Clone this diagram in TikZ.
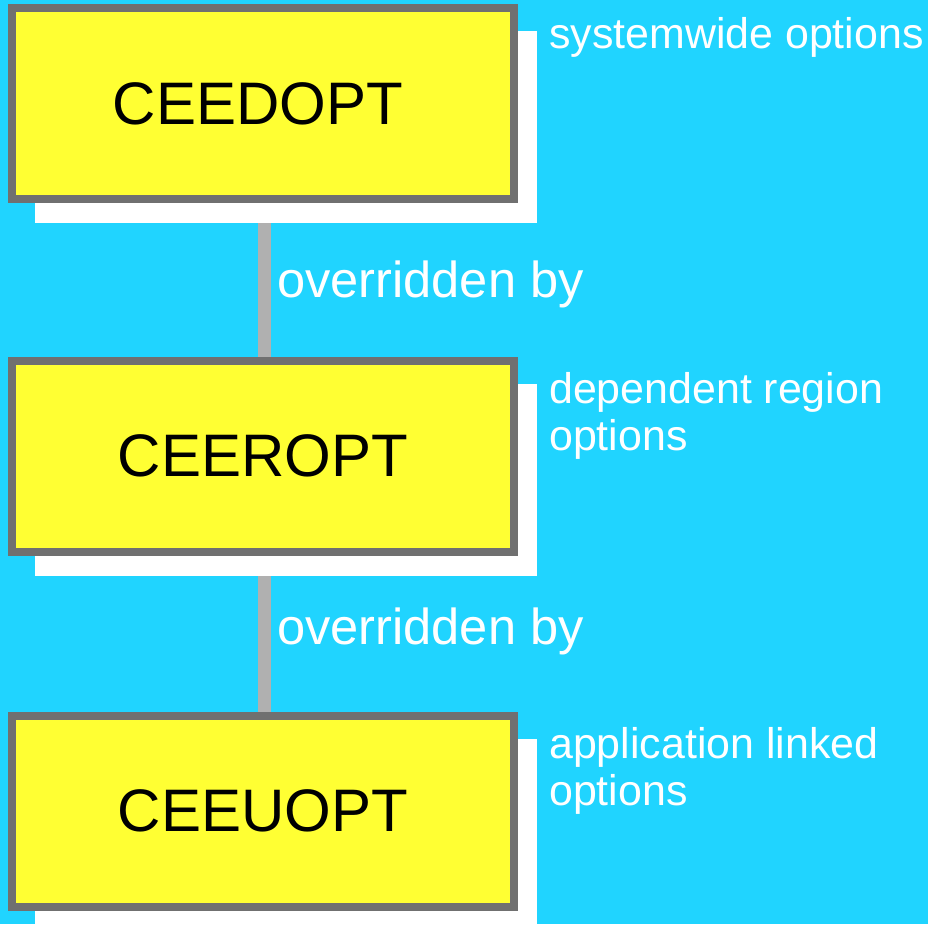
\documentclass[tikz,border=0pt]{standalone}
\usepackage{fontspec}
\setmainfont{Liberation Sans}
\usetikzlibrary{calc}
\definecolor{bgcyan}{HTML}{20D4FF}
\definecolor{boxyellow}{HTML}{FFFF33}
\definecolor{boxgray}{HTML}{707070}
\definecolor{linkgray}{HTML}{B0B0B0}
\pgfdeclarelayer{bg}
\pgfdeclarelayer{mid}
\pgfsetlayers{bg,mid,main}
\tikzset{
  optbox/.style={draw=boxgray, line width=8pt, fill=boxyellow, rectangle,
    minimum width=502pt, minimum height=191pt, inner sep=0pt,
    font=\fontsize{60}{66}\selectfont, text=black},
  shadowfill/.style={fill=white},
  linkline/.style={draw=linkgray, line width=13pt},
  linklabel/.style={anchor=base west, inner sep=0pt, text=white,
    font=\fontsize{50.6}{56}\selectfont},
  sidelabel/.style={anchor=north west, inner sep=0pt, text=white, align=left,
    font=\fontsize{42.9}{47}\selectfont}
}
\begin{document}
\begin{tikzpicture}[x=1pt,y=-1pt]
\useasboundingbox (0,0) rectangle (928,924);
\begin{pgfonlayer}{bg}
  \fill[bgcyan] (0,0) rectangle (928,924);
\end{pgfonlayer}

\node[optbox] (b1) at (263,103.5) {CEEDOPT\hspace*{10pt}};
\node[optbox] (b2) at (263,456) {CEEROPT};
\node[optbox] (b3) at (263,811) {CEEUOPT};

\begin{pgfonlayer}{mid}
  \fill[shadowfill] ($(b1.north west)+(27,27)$) rectangle ($(b1.south east)+(19,20)$);
  \fill[shadowfill] ($(b2.north west)+(27,27)$) rectangle ($(b2.south east)+(19,20)$);
  \fill[shadowfill] ($(b3.north west)+(27,27)$) rectangle ($(b3.south east)+(19,20)$);
\end{pgfonlayer}

\begin{pgfonlayer}{bg}
  \draw[linkline] ([xshift=1.5pt]b1.south) -- ([xshift=1.5pt]b2.north);
  \draw[linkline] ([xshift=1.5pt]b2.south) -- ([xshift=1.5pt]b3.north);
\end{pgfonlayer}

\node[linklabel] (o1) at (277,297) {overridden by};
\node[linklabel] (o2) at (277,644) {overridden by};

\node[sidelabel] (s1) at (549,17) {systemwide options};
\node[sidelabel] (s2) at (549,372) {dependent region\\options};
\node[sidelabel] (s3) at (549,727) {application linked\\options};
\end{tikzpicture}
\end{document}
